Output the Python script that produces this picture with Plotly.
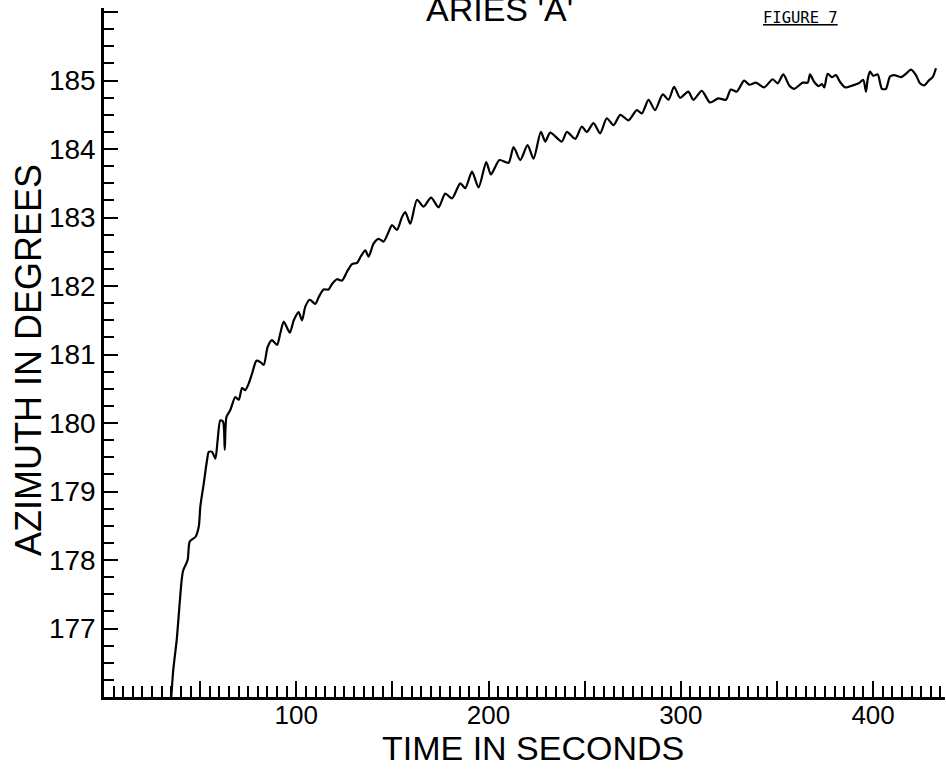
import plotly.graph_objects as go

# Time (s) and azimuth (deg)
time_s = [35.0, 36.0, 37.8, 39.5, 40.4, 41.2, 43.5, 44.6, 47.6, 49.3, 50.1, 51.9, 53.6, 54.5, 56.2,
          57.9, 59.1, 60.5, 61.9, 62.8, 63.7, 65.7, 68.3, 70.1, 71.8, 73.5, 75.3, 77.0, 79.3, 81.3,
          83.1, 85.1, 87.4, 90.0, 91.7, 93.5, 96.6, 98.7, 101.2, 103.0, 104.7, 107.0, 109.9, 111.7,
          114.2, 116.8, 118.6, 121.2, 123.8, 126.4, 129.0, 131.6, 133.7, 135.9, 137.6, 140.2, 142.8,
          145.4, 148.0, 149.8, 152.4, 155.0, 156.7, 159.3, 162.8, 166.2, 170.1, 174.0, 177.5, 181.0,
          185.3, 187.9, 191.4, 194.8, 198.8, 201.2, 205.7, 210.4, 213.0, 216.5, 220.3, 223.4, 227.2,
          229.5, 232.1, 238.1, 240.7, 245.1, 248.5, 251.1, 254.6, 258.0, 261.5, 265.0, 268.5, 272.8,
          277.1, 279.7, 283.2, 286.6, 290.6, 293.6, 296.5, 299.6, 303.9, 306.5, 310.9, 315.2, 319.5,
          323.5, 326.0, 329.1, 332.9, 335.7, 339.1, 343.3, 347.8, 350.4, 353.3, 356.4, 359.0, 363.4,
          366.0, 367.2, 369.4, 371.7, 373.4, 374.6, 376.4, 378.6, 380.7, 382.8, 385.6, 389.4, 392.5,
          394.9, 396.3, 397.2, 398.4, 400.1, 402.4, 404.6, 406.7, 408.8, 411.0, 414.5, 417.1, 419.7,
          422.3, 424.4, 426.6, 428.9, 431.0, 432.7]
azimuth_deg = [176.0, 176.39, 176.83, 177.42, 177.71, 177.85, 178.00, 178.27, 178.34, 178.49, 178.78,
               179.12, 179.46, 179.58, 179.58, 179.48, 179.75, 180.04, 180.02, 179.61, 180.09, 180.19,
               180.38, 180.34, 180.51, 180.48, 180.58, 180.72, 180.91, 180.89, 180.85, 181.11, 181.21,
               181.14, 181.31, 181.48, 181.32, 181.50, 181.62, 181.50, 181.70, 181.80, 181.74, 181.84,
               181.95, 181.95, 182.03, 182.10, 182.08, 182.21, 182.32, 182.34, 182.44, 182.52, 182.43,
               182.62, 182.69, 182.65, 182.79, 182.89, 182.82, 183.01, 183.08, 182.91, 183.26, 183.16,
               183.29, 183.15, 183.35, 183.28, 183.50, 183.43, 183.67, 183.44, 183.81, 183.63, 183.84,
               183.80, 184.03, 183.84, 184.06, 183.86, 184.25, 184.11, 184.24, 184.11, 184.25, 184.15,
               184.33, 184.25, 184.38, 184.23, 184.45, 184.35, 184.50, 184.42, 184.57, 184.52, 184.72,
               184.57, 184.80, 184.72, 184.91, 184.75, 184.84, 184.72, 184.85, 184.68, 184.74, 184.72,
               184.87, 184.84, 185.00, 184.94, 184.97, 184.90, 185.02, 184.96, 185.09, 184.93, 184.88,
               184.97, 184.97, 185.09, 184.98, 184.92, 184.95, 184.90, 185.10, 185.05, 185.08, 184.98,
               184.90, 184.93, 184.96, 185.01, 184.84, 185.02, 185.13, 185.07, 185.09, 184.88, 184.88,
               185.06, 185.08, 185.05, 185.10, 185.16, 185.08, 184.96, 184.93, 185.00, 185.05, 185.18]

x_tick_vals = [50, 100, 150, 200, 250, 300, 350, 400]
x_tick_text = ["", "100", "", "200", "", "300", "", "400"]
y_tick_vals = [176, 177, 178, 179, 180, 181, 182, 183, 184, 185, 186]
y_tick_text = ["", "177", "178", "179", "180", "181", "182", "183", "184", "185", ""]

title_text = "ARIES 'A'"
figure_label = "FIGURE 7"
x_title = "TIME IN SECONDS"
y_title = "AZIMUTH IN DEGREES"

FONT = "Liberation Sans"

fig = go.Figure()
fig.add_trace(go.Scatter(
    x=time_s, y=azimuth_deg, mode="lines",
    line=dict(color="black", width=2.2, shape="spline", smoothing=0.7),
    hoverinfo="x+y", showlegend=False,
))

fig.update_layout(
    width=946, height=769,
    margin=dict(l=104, r=1, t=8, b=72),
    paper_bgcolor="white", plot_bgcolor="white",
    font=dict(family=FONT, color="black"),
    showlegend=False,
)

fig.update_xaxes(
    range=[0, 437.4], showgrid=False, zeroline=False,
    showline=True, linecolor="black", linewidth=2.5,
    ticks="inside", ticklen=16, tickwidth=2, tickcolor="black",
    tickmode="array", tickvals=x_tick_vals, ticktext=x_tick_text,
    tickfont=dict(family=FONT, size=26, color="black"),
    ticklabelstandoff=-7,
    minor=dict(tickmode="linear", tick0=0, dtick=5, ticks="inside", ticklen=11,
               tickwidth=1.8, tickcolor="black", showgrid=False),
)
fig.update_yaxes(
    range=[176, 186.06], showgrid=False, zeroline=False,
    showline=True, linecolor="black", linewidth=2.5,
    ticks="inside", ticklen=14, tickwidth=2, tickcolor="black",
    tickmode="array", tickvals=y_tick_vals, ticktext=y_tick_text,
    tickfont=dict(family=FONT, size=28, color="black"),
    ticklabelstandoff=0,
    minor=dict(tickmode="linear", tick0=176, dtick=0.25, ticks="inside", ticklen=10,
               tickwidth=1.8, tickcolor="black", showgrid=False),
)

fig.add_annotation(text=title_text, xref="paper", yref="paper", x=0.4697, y=0.998,
                   xanchor="center", yanchor="middle", showarrow=False,
                   font=dict(family=FONT, size=34, color="black"))
fig.add_annotation(text="<u>" + figure_label + "</u>", xref="paper", yref="paper",
                   x=0.8276, y=0.985, xanchor="center", yanchor="middle", showarrow=False,
                   font=dict(family="DejaVu Sans Mono", size=15.5, color="black"))
fig.add_annotation(text=x_title, xref="paper", yref="paper", x=0.510, y=-0.0740,
                   xanchor="center", yanchor="middle", showarrow=False,
                   font=dict(family=FONT, size=34, color="black"))
fig.add_annotation(text=y_title, xref="paper", yref="paper", x=-0.0904, y=0.489,
                   xanchor="center", yanchor="middle", showarrow=False, textangle=-90,
                   font=dict(family=FONT, size=36, color="black"))

fig.write_html("out.html")
